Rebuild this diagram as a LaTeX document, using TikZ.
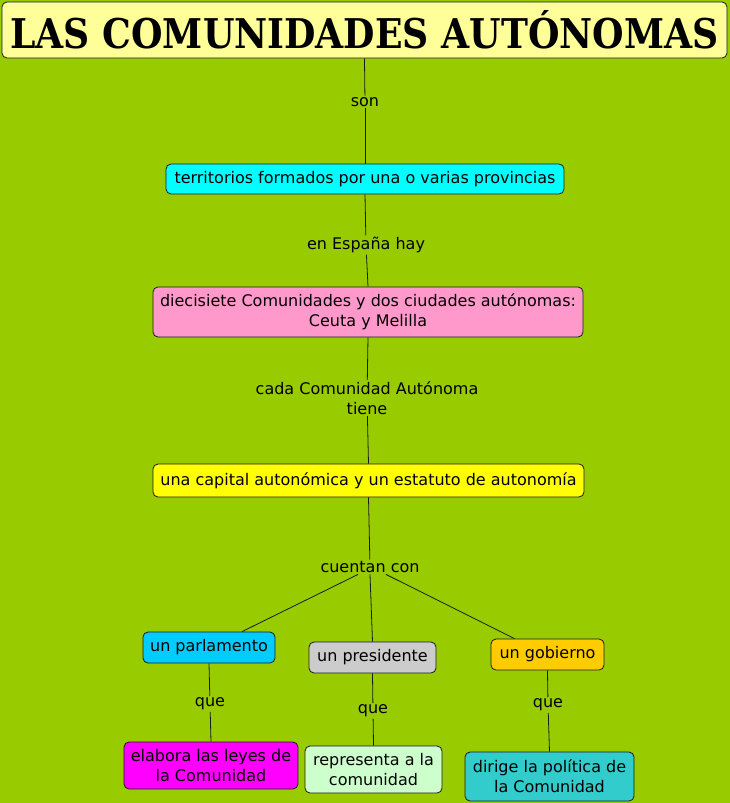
\documentclass[tikz,border=0pt]{standalone}
\usepackage{fontspec}
\setmainfont{DejaVu Sans}
\newfontfamily\titlefont{DejaVu Serif Condensed Bold}
\definecolor{bg}{HTML}{99CC00}
\definecolor{titlefill}{HTML}{FFFF99}
\definecolor{cterr}{HTML}{00FFFF}
\definecolor{cdiec}{HTML}{FF99CC}
\definecolor{ccap}{HTML}{FFFF00}
\definecolor{cparl}{HTML}{00CCFF}
\definecolor{cpres}{HTML}{CCCCCC}
\definecolor{cgob}{HTML}{FFCC00}
\definecolor{celab}{HTML}{FF00FF}
\definecolor{crep}{HTML}{CCFFCC}
\definecolor{cdir}{HTML}{33CCCC}
\definecolor{edge}{HTML}{1A1A1A}
\tikzset{
  concept/.style={draw=edge, line width=0.8pt, rounded corners=5pt, inner sep=0pt, align=center, font=\fontsize{16}{20}\selectfont, text=black},
  lbl/.style={inner sep=1.5pt, align=center, font=\fontsize{16}{20}\selectfont, text=black},
  link/.style={draw=edge, line width=0.8pt}
}
\begin{document}
\begin{tikzpicture}[x=1pt,y=-1pt]
\fill[bg] (0,0) rectangle (730,803);
\useasboundingbox (0,0) rectangle (730,803);
\node[concept, fill=titlefill, minimum width=725pt, minimum height=56pt] (title) at (364.5,30) {\resizebox{708pt}{38pt}{\titlefont LAS COMUNIDADES AUTÓNOMAS}};
\node[concept, fill=cterr, minimum width=398pt, minimum height=30pt] (terr) at (365,179) {territorios formados por una o varias provincias};
\node[concept, fill=cdiec, minimum width=430pt, minimum height=50pt] (diec) at (368,312) {diecisiete Comunidades y dos ciudades autónomas:\\Ceuta y Melilla};
\node[concept, fill=ccap, minimum width=431pt, minimum height=33pt] (cap) at (368.5,480.5) {una capital autonómica y un estatuto de autonomía};
\node[concept, fill=cparl, minimum width=132pt, minimum height=31pt] (parl) at (209,647.5) {un parlamento};
\node[concept, fill=cpres, minimum width=127pt, minimum height=31pt] (pres) at (372.5,657.5) {un presidente};
\node[concept, fill=cgob, minimum width=113pt, minimum height=31pt] (gob) at (547.5,654.5) {un gobierno};
\node[concept, fill=celab, minimum width=174pt, minimum height=47pt] (elab) at (211,765.5) {elabora las leyes de\\la Comunidad};
\node[concept, fill=crep, minimum width=137pt, minimum height=47pt] (rep) at (373.5,769.5) {representa a la\\comunidad};
\node[concept, fill=cdir, minimum width=169pt, minimum height=49pt] (dir) at (549.5,776.5) {dirige la política de\\la Comunidad};
\node[lbl] (son) at (365,102) {son};
\node[lbl] (esp) at (366,245) {en España hay};
\node[lbl] (cada) at (367,398) {cada Comunidad Autónoma\\tiene};
\node[lbl] (cuen) at (370,567) {cuentan con};
\node[lbl] (q1) at (210,704) {que};
\node[lbl] (q2) at (373,711) {que};
\node[lbl] (q3) at (548,705) {que};
\draw[link] (title.south) -- (son);
\draw[link] (son) -- (terr.north);
\draw[link] (terr.south) -- (esp);
\draw[link] (esp) -- (diec.north);
\draw[link] (diec.south) -- (cada);
\draw[link] (cada) -- (cap.north);
\draw[link] (cap.south) -- (cuen);
\draw[link] ([xshift=-12pt]cuen.south) -- ([xshift=33pt]parl.north);
\draw[link] (cuen.south) -- (pres.north);
\draw[link] ([xshift=16pt]cuen.south) -- ([xshift=-33pt]gob.north);
\draw[link] (parl.south) -- (q1);
\draw[link] (q1) -- (elab.north);
\draw[link] (pres.south) -- (q2);
\draw[link] (q2) -- (rep.north);
\draw[link] (gob.south) -- (q3);
\draw[link] (q3) -- (dir.north);
\end{tikzpicture}
\end{document}
